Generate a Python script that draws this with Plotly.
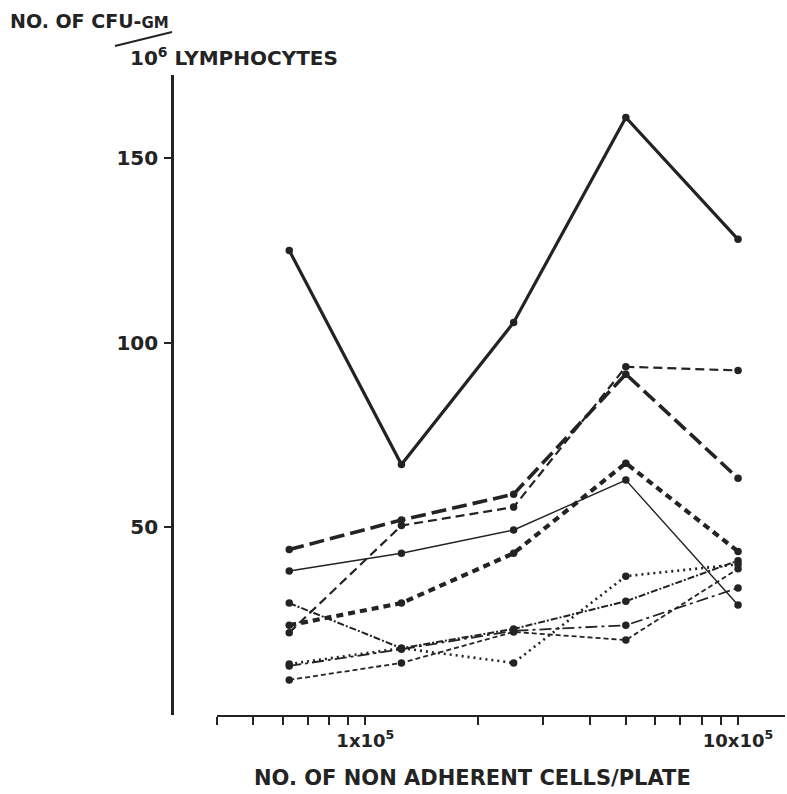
import math
import plotly.graph_objects as go

# Non-adherent cells plated per dish
cells_per_plate = [62500, 125000, 250000, 500000, 1000000]

# CFU-GM per 10^6 lymphocytes, one list per donor
donor_a = [125, 67, 105.5, 161, 128]
donor_b = [21.5, 50.5, 55.5, 93.5, 92.5]
donor_c = [44, 52, 59, 91.5, 63.3]
donor_d = [23.5, 29.5, 43, 67.4, 43.5]
donor_e = [38.2, 43, 49.3, 62.8, 29]
donor_f = [29.5, 17.3, 22.5, 30, 41]
donor_g = [13, 17.3, 13.3, 36.8, 40]
donor_h = [8.7, 13.3, 21.7, 19.5, 38.8]
donor_i = [12.5, 17, 22, 23.5, 33.6]

# x-axis ticks (log scale): labelled decades plus unlabelled minor ticks
x_tickvals = [1e5, 1e6]
x_ticktext = ["1x10<sup>5</sup>", "10x10<sup>5</sup>"]
x_minor_tickvals = [4e4, 5e4, 6e4, 7e4, 8e4, 9e4, 2e5, 3e5, 4e5, 5e5, 6e5, 7e5, 8e5, 9e5]
y_tickvals = [50, 100, 150]
y_ticktext = ["50", "100", "150"]

INK = "#232323"
FONT = "DejaVu Sans"

styles = [
    (donor_a, 3.2, "solid"),
    (donor_b, 2.2, "9px,5px"),
    (donor_c, 3.6, "15px,6px"),
    (donor_d, 4.2, "7px,5px"),
    (donor_e, 1.4, "solid"),
    (donor_f, 2.0, "7px,2px,2px,2px"),
    (donor_g, 2.6, "2px,4px"),
    (donor_h, 1.8, "5px,3px"),
    (donor_i, 1.8, "12px,4px,3px,4px"),
]

fig = go.Figure()
for vals, w, dash in styles:
    fig.add_trace(go.Scatter(
        x=cells_per_plate, y=vals, mode="lines+markers",
        line=dict(color=INK, width=w, dash=dash),
        marker=dict(color=INK, size=7.5),
        showlegend=False, hoverinfo="skip",
    ))

W, H = 787, 794
L, R, T, B = 172, 2, 75, 79
pw, ph = W - L - R, H - T - B


def px_x(px):
    return (px - L) / pw


def px_y(py):
    return (H - B - py) / ph


fig.update_layout(
    width=W, height=H,
    margin=dict(l=L, r=R, t=T, b=B),
    paper_bgcolor="white", plot_bgcolor="white",
    xaxis=dict(
        type="log", range=[math.log10(4e4), 6.126],
        domain=[px_x(217), 1],
        showgrid=False, zeroline=False,
        showline=True, linecolor=INK, linewidth=2.4,
        tickmode="array", tickvals=x_tickvals, ticktext=x_ticktext,
        ticks="outside", ticklen=8, tickwidth=2, tickcolor=INK,
        tickfont=dict(family=FONT, size=18, color=INK, weight="bold"),
        minor=dict(tickmode="array", tickvals=x_minor_tickvals,
                   ticks="outside", ticklen=8, tickwidth=2, tickcolor=INK,
                   showgrid=False),
        anchor="y",
    ),
    yaxis=dict(
        range=[-0.8, 172.5],
        anchor="free", position=0,
        showgrid=False, zeroline=False,
        showline=True, linecolor=INK, linewidth=2.6,
        tickmode="array", tickvals=y_tickvals, ticktext=y_ticktext,
        ticks="outside", ticklen=7, tickwidth=2, tickcolor=INK,
        ticklabelstandoff=2,
        tickfont=dict(family=FONT, size=20, color=INK, weight="bold"),
    ),
)

# Y-axis title, written as a fraction
fig.add_annotation(
    x=px_x(8), y=px_y(21), xref="paper", yref="paper",
    xanchor="left", yanchor="middle", showarrow=False,
    text="NO. OF CFU-<span style='font-size:15px'>GM</span>",
    font=dict(family=FONT, size=19, color=INK, weight="bold"),
)
fig.add_annotation(
    x=px_x(128), y=px_y(57), xref="paper", yref="paper",
    xanchor="left", yanchor="middle", showarrow=False,
    text="10<sup>6</sup> LYMPHOCYTES",
    font=dict(family=FONT, size=20, color=INK, weight="bold"),
)
fig.add_shape(
    type="line", xref="paper", yref="paper",
    x0=px_x(115), y0=px_y(46), x1=px_x(172), y1=px_y(32),
    line=dict(color=INK, width=2),
)

# X-axis title
fig.add_annotation(
    x=px_x(472), y=px_y(778), xref="paper", yref="paper",
    xanchor="center", yanchor="middle", showarrow=False,
    text="NO. OF NON ADHERENT CELLS/PLATE",
    font=dict(family=FONT, size=21, color=INK, weight="bold"),
)

fig.write_html("out.html")
